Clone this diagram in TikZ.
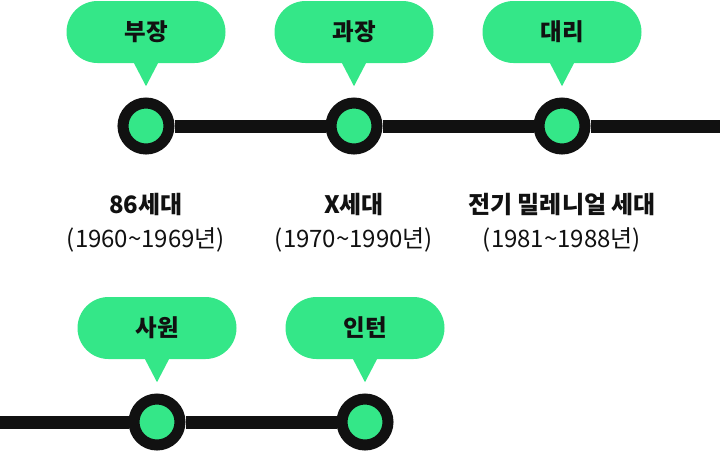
\documentclass[tikz,border=0pt]{standalone}
\usepackage{fontspec}
\setmainfont{Noto Sans CJK KR}
\usepackage{xcolor}
\usetikzlibrary{calc, positioning}
\definecolor{mint}{HTML}{34E788}
\definecolor{ink}{HTML}{111111}

\begin{document}
\begin{tikzpicture}[
    x=1pt, y=-1pt,
    font=\fontsize{24}{28}\selectfont,
    every node/.style={inner sep=0pt, text=ink},
    track/.style  ={line width=13pt, draw=ink},
    stop/.style   ={circle, minimum size=46pt, line width=11pt,
                    draw=ink, fill=mint},
    bubble/.style ={fill=mint, rounded corners=31pt,
                    minimum width=159pt, minimum height=62pt,
                    font=\fontsize{23.5}{28}\selectfont\bfseries},
    gen/.style    ={font=\fontsize{24}{28}\selectfont\bfseries},
    years/.style  ={font=\fontsize{24}{28}\selectfont},
  ]

  %% --- common geometry --------------------------------------------------
  \def\gap{208}   % distance between stops
  \def\tip{23}    % pointer length below bubble
  \def\half{12.5} % half pointer base

  \useasboundingbox (0,0) rectangle (720,451);

  %% =====================================================================
  %% Row 1
  %% =====================================================================
  \node[stop] (s1) at (146,126) {};
  \node[stop] (s2) at ($(s1)+(\gap,0)$) {};
  \node[stop] (s3) at ($(s2)+(\gap,0)$) {};
  \coordinate (e1) at (720,126);
  % track between stops
  \draw[track] (s1) -- (s2);
  \draw[track] (s2) -- (s3);
  \draw[track] (s3) -- (e1);

  % bubbles with pointer
  \node[bubble] (b1) at (146,32) {부장};
  \node[bubble] (b2) at ($(b1)+(\gap,0)$) {과장};
  \node[bubble] (b3) at ($(b2)+(\gap,0)$) {대리};
  \foreach \b in {b1,b2,b3}
    \fill[mint] ($(\b.south)+(-\half,-1)$) -- ($(\b.south)+(\half,-1)$)
                -- ($(\b.south)+(0,\tip)$) -- cycle;

  % generation labels
  \node[gen]   (g1) at (146,204) {86세대};
  \node[years] (y1) at (146,240) {(1960\textasciitilde1969년)};
  \node[gen]   (g2) at (354,204) {X세대};
  \node[years] (y2) at (354,240) {(1970\textasciitilde1990년)};
  \node[gen]   (g3) at (562,204) {전기 밀레니얼 세대};
  \node[years] (y3) at (562,240) {(1981\textasciitilde1988년)};

  %% =====================================================================
  %% Row 2
  %% =====================================================================
  \node[stop] (s4) at (157,422) {};
  \node[stop] (s5) at ($(s4)+(\gap,0)$) {};
  \coordinate (e2) at (0,422);
  \draw[track] (e2) -- (s4);
  \draw[track] (s4) -- (s5);

  \node[bubble] (b4) at (157,328) {사원};
  \node[bubble] (b5) at ($(b4)+(\gap,0)$) {인턴};
  \foreach \b in {b4,b5}
    \fill[mint] ($(\b.south)+(-\half,-1)$) -- ($(\b.south)+(\half,-1)$)
                -- ($(\b.south)+(0,\tip)$) -- cycle;

\end{tikzpicture}
\end{document}
